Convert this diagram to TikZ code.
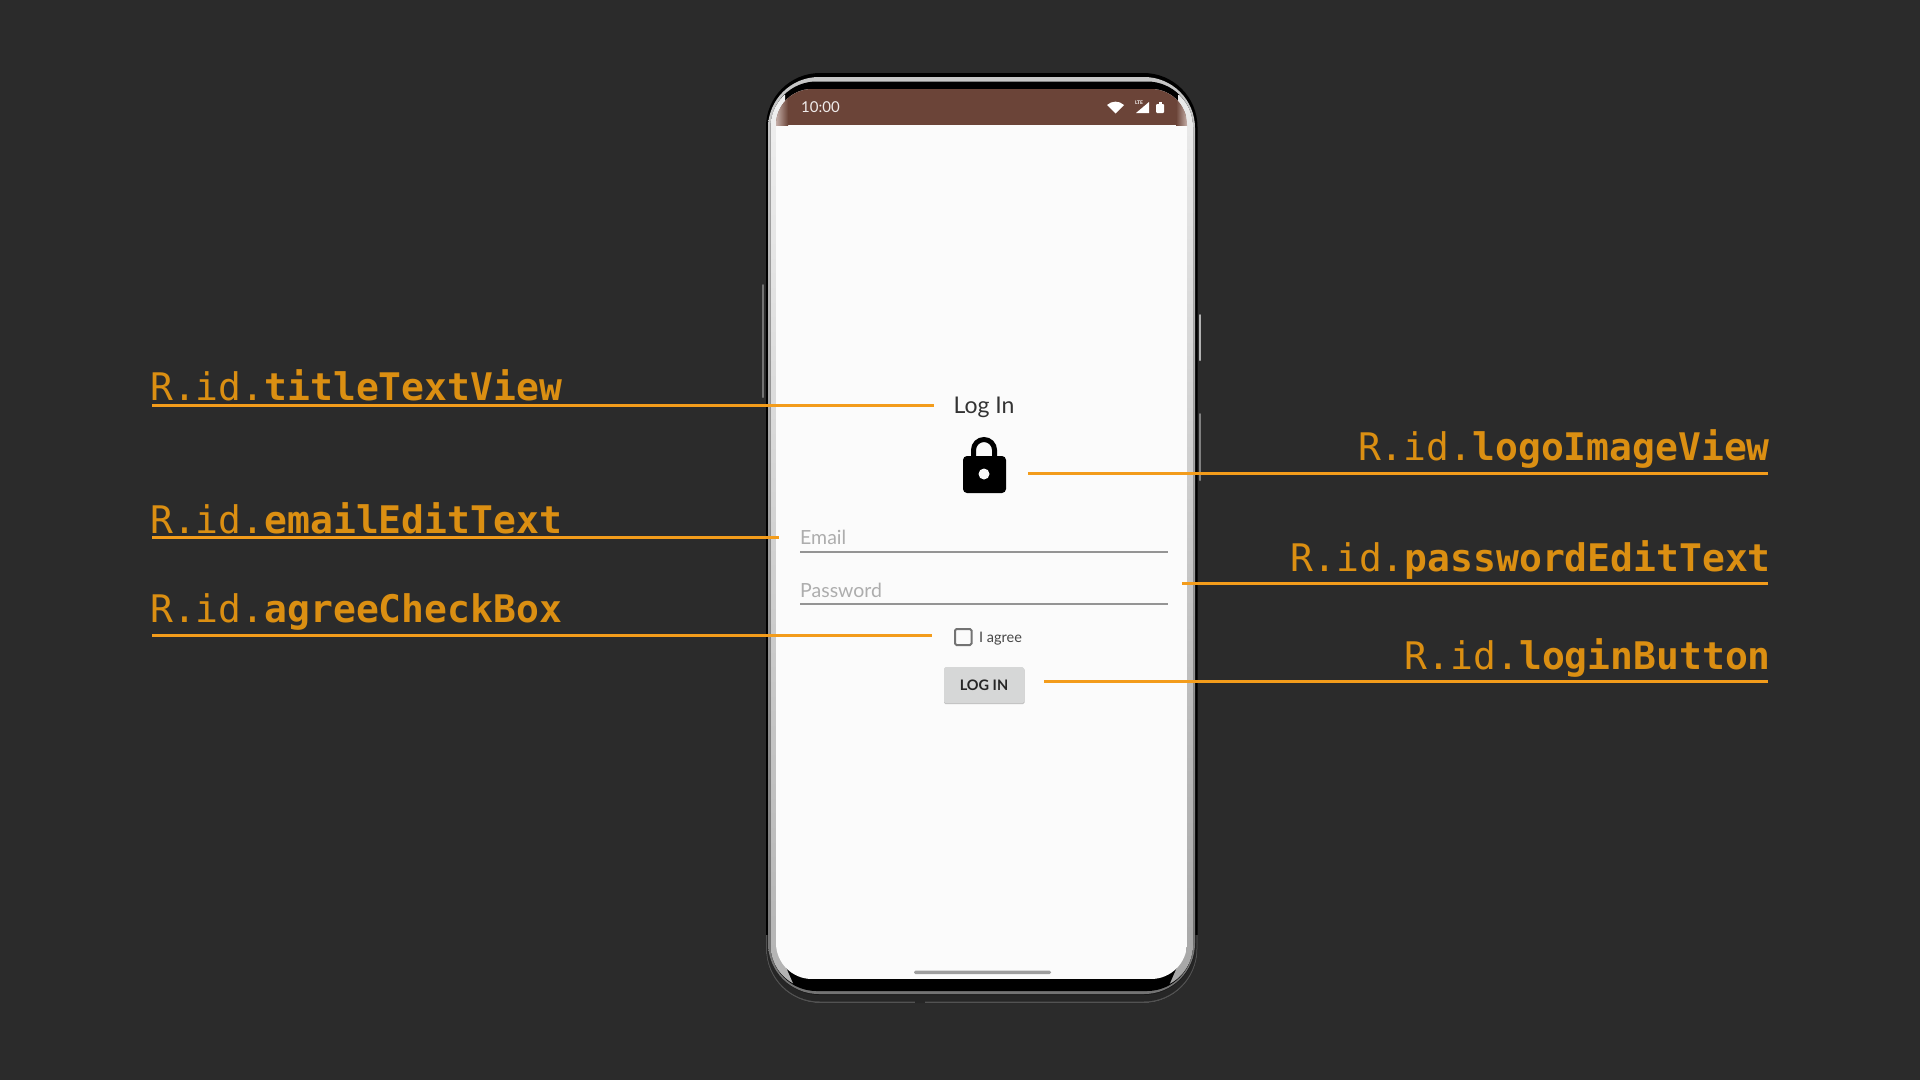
\documentclass[tikz,border=0pt]{standalone}
\usepackage{fontspec}
\setmainfont{Lato}
\newfontfamily\idfont{DejaVu Sans Mono}
\usetikzlibrary{positioning}

\definecolor{bgdark}{HTML}{2B2B2B}
\definecolor{idorange}{HTML}{DB8F12}
\definecolor{leaderorange}{HTML}{F39C1B}
\definecolor{statusbrown}{HTML}{6B4438}
\definecolor{statuspale}{HTML}{C4AEA8}
\definecolor{screenwhite}{HTML}{FBFBFB}
\definecolor{buttongray}{HTML}{D6D7D7}

\tikzset{
  idlabel/.style = {inner sep=0pt, text=idorange, font=\idfont\fontsize{38}{40}\selectfont},
  leader/.style = {leaderorange, line width=3pt},
  hinttext/.style = {inner sep=0pt, anchor=base west, text=black!32, font=\fontsize{19.5}{22}\selectfont},
  fieldline/.style = {black!42, line width=2pt},
  sidekey/.style = {line width=2pt, line cap=round}
}

\begin{document}
\begin{tikzpicture}[x=1pt, y=-1pt]
  \useasboundingbox (0, 0) rectangle (1920, 1080);
  \fill[bgdark] (0, 0) rectangle (1920, 1080);

  % side keys
  \draw[sidekey, black!55] (763, 285)--(763, 397);
  \draw[sidekey, black!30] (1200, 315)--(1200, 360);
  \draw[sidekey, black!50] (1200, 414)--(1200, 480);

  % frame
  \fill[black, rounded corners=54] (766, 73) rectangle (1197.5, 1003);
  \begin{scope}
    \clip (760, 935) rectangle (1205, 1010);
    \fill[black!68, rounded corners=54] (766, 73) rectangle (1197.5, 1003);
    \fill[black!85, rounded corners=53] (767, 74) rectangle (1196.5, 1001.5);
    \fill[black!90, rounded corners=52] (768, 75) rectangle (1195.5, 995);
  \end{scope}
  \shade[top color=black!22, middle color=white, bottom color=black!55, rounded corners=51]
    (768, 77) rectangle (1195, 994);
  \fill[black, rounded corners=46] (770.5, 81.5) rectangle (1193, 991);

  % light strips beside the screen
  \begin{scope}
    \clip[rounded corners=44] (770.5, 83) rectangle (1193, 989);
    \shade[top color=black!6, bottom color=black!30] (770, 95)--(785, 95)--(785, 965)
      --(795, 988)--(770, 988)--cycle;
    \shade[top color=black!8, bottom color=black!35] (1193, 95)--(1178, 95)--(1178, 965)
      --(1168, 988)--(1193, 988)--cycle;
  \end{scope}

  % screen
  \begin{scope}
    \clip[rounded corners=36] (776, 89) rectangle (1187, 979);
    \fill[screenwhite] (776, 89) rectangle (1187, 979);
    \fill[statusbrown] (776, 89) rectangle (1187, 125);
    \shade[left color=statuspale, right color=statusbrown] (776, 89) rectangle (788, 125);
    \shade[left color=statusbrown, right color=statuspale] (1176, 89) rectangle (1187, 125);
  \end{scope}
  \fill[black!38, rounded corners=1.5] (914, 970.5) rectangle (1051, 974);
  \fill[black!85] (915, 997) rectangle (925, 1003);

  % status bar
  \node[inner sep=0pt, anchor=base west, text=white!90!statusbrown, font=\fontsize{15}{17}\selectfont]
    (clockText) at (801, 112) {10:00};
  \fill[white] (1115.5, 113.5)--(1107, 105) .. controls (1112, 100.5) and (1119, 100.5) .. (1124, 105)--cycle;
  \fill[white] (1149, 102)--(1149, 113)--(1136, 113)--cycle;
  \node[inner sep=0pt, text=white, font=\bfseries\fontsize{5}{6}\selectfont]
    (lteText) at (1139, 103) {LTE};
  \fill[white, rounded corners=1] (1156, 104) rectangle (1164, 113);
  \fill[white] (1158.5, 102) rectangle (1161.5, 105);

  % title and lock
  \node[inner sep=0pt, anchor=base, text=black!80, font=\fontsize{23}{26}\selectfont]
    (titleText) at (984, 413) {Log In};
  \draw[line width=5pt] (973.5, 460)--(973.5, 450) arc (180:360:10.5)--(994.5, 460);
  \fill[black, rounded corners=4] (963, 456) rectangle (1006, 493);
  \fill[screenwhite] (984, 474) circle (5.5);

  % fields
  \node[hinttext] (emailText) at (800, 544) {Email};
  \draw[fieldline] (800, 551.5)--(1168, 551.5);
  \node[hinttext] (passwordText) at (800, 597) {Password};
  \draw[fieldline] (800, 604)--(1168, 604);

  % check box
  \draw[black!55, line width=2pt, rounded corners=1.5] (955, 629) rectangle (971.5, 645);
  \node[inner sep=0pt, anchor=base west, text=black!72, font=\fontsize{14.5}{16}\selectfont]
    (agreeText) at (979, 642) {I agree};

  % button
  \fill[black!24, rounded corners=1.5] (944, 668) rectangle (1024.5, 704);
  \fill[buttongray, rounded corners=1.5] (944, 667) rectangle (1024, 703);
  \node[inner sep=0pt, anchor=base, text=black!85, font=\bfseries\fontsize{14.5}{16}\selectfont]
    (buttonText) at (984, 690) {LOG IN};

  % labels
  \node[idlabel, anchor=base west] (titleLabel) at (150, 400) {R.id.\textbf{titleTextView}};
  \node[idlabel, anchor=base west] (emailLabel) at (150, 533) {R.id.\textbf{emailEditText}};
  \node[idlabel, anchor=base west] (agreeLabel) at (150, 622) {R.id.\textbf{agreeCheckBox}};
  \node[idlabel, anchor=base east] (logoLabel) at (1770, 460) {R.id.\textbf{logoImageView}};
  \node[idlabel, anchor=base east] (passwordLabel) at (1771, 571) {R.id.\textbf{passwordEditText}};
  \node[idlabel, anchor=base east] (loginLabel) at (1771, 669) {R.id.\textbf{loginButton}};

  % leaders
  \coordinate (titleStart) at (152, 405);
  \coordinate (titleEnd) at (934, 405);
  \coordinate (emailStart) at (152, 537.5);
  \coordinate (emailEnd) at (779, 537.5);
  \coordinate (agreeStart) at (152, 635.5);
  \coordinate (agreeEnd) at (932, 635.5);
  \coordinate (logoStart) at (1768, 473);
  \coordinate (logoEnd) at (1028, 473);
  \coordinate (passwordStart) at (1768, 583);
  \coordinate (passwordEnd) at (1182, 583);
  \coordinate (loginStart) at (1768, 681);
  \coordinate (loginEnd) at (1044, 681);
  \foreach \i in {title, email, agree, logo, password, login}
    \draw[leader] (\i Start)--(\i End);

\end{tikzpicture}
\end{document}
